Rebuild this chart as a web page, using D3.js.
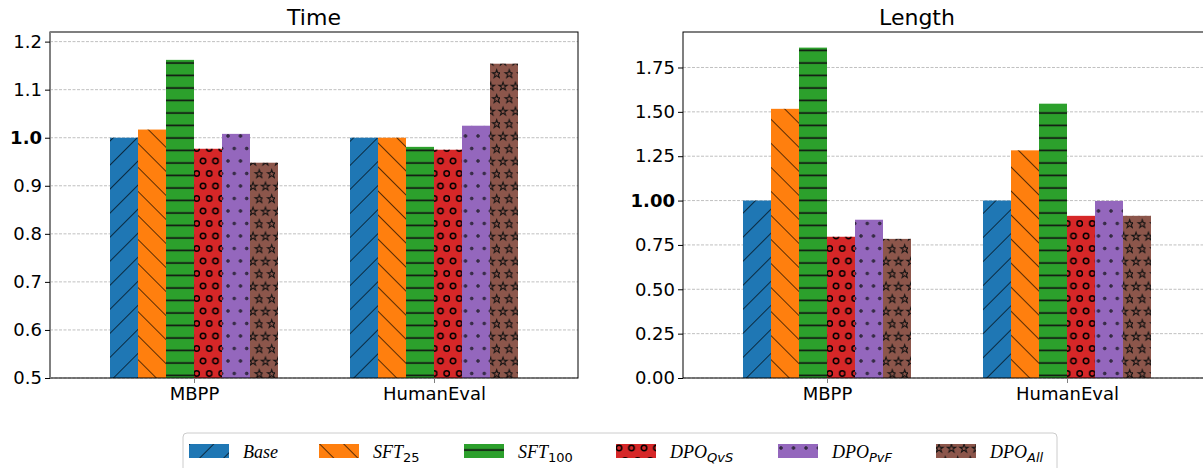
<!DOCTYPE html>
<html>
<head>
<meta charset="utf-8">
<script src="https://cdn.jsdelivr.net/npm/d3@7"></script>
<style>
  body { margin: 0; background: #fff; }
  svg text { font-family: "DejaVu Sans", sans-serif; }
</style>
</head>
<body>
<svg id="drawing_region"></svg>
<script>
const groups = ["MBPP", "HumanEval"];
const methods = ["Base", "SFT25", "SFT100", "DPO_QvS", "DPO_PvF", "DPO_All"];
const colors = ["#1f77b4", "#ff7f0e", "#2ca02c", "#d62728", "#9467bd", "#8c564b"];
const hatches = ["fwd", "back", "horiz", "rings", "dots", "stars"];

// one row per group, one value per method
const time_values = [
    [1.000, 1.017, 1.162, 0.977, 1.008, 0.948],
    [1.000, 1.000, 0.981, 0.975, 1.025, 1.154]
];
const length_values = [
    [1.000, 1.517, 1.862, 0.796, 0.892, 0.784],
    [1.000, 1.283, 1.546, 0.914, 0.998, 0.914]
];
const time_ticks = [0.5, 0.6, 0.7, 0.8, 0.9, 1.0, 1.1, 1.2];
const length_ticks = [0.00, 0.25, 0.50, 0.75, 1.00, 1.25, 1.50, 1.75];

// legend labels: main part + subscript
const legend_main = ["Base", "SFT", "SFT", "DPO", "DPO", "DPO"];
const legend_sub = ["", "25", "100", "QvS", "PvF", "All"];

const svg = d3.select('#drawing_region')
    .attr('width', 1203)
    .attr('height', 468);

// hatch patterns
const defs = svg.append('defs');

function linePattern(id, angle, gap) {
    const p = defs.append('pattern')
        .attr('id', id)
        .attr('patternUnits', 'userSpaceOnUse')
        .attr('width', gap)
        .attr('height', gap)
        .attr('patternTransform', `rotate(${angle})`);
    p.append('line')
        .attr('x1', 0).attr('y1', 0)
        .attr('x2', 0).attr('y2', gap)
        .attr('stroke', '#000')
        .attr('stroke-width', 1.3);
}
linePattern('fwd', 45, 17);
linePattern('back', -45, 17);

const horiz = defs.append('pattern')
    .attr('id', 'horiz')
    .attr('patternUnits', 'userSpaceOnUse')
    .attr('width', 12.5)
    .attr('height', 12.5);
horiz.append('line')
    .attr('x1', 0).attr('y1', 6).attr('x2', 12.5).attr('y2', 6)
    .attr('stroke', '#111').attr('stroke-width', 1.6);

function shapePattern(id, draw) {
    const p = defs.append('pattern')
        .attr('id', id)
        .attr('patternUnits', 'userSpaceOnUse')
        .attr('width', 12.5)
        .attr('height', 25);
    [[0, 0], [12.5, 0], [6.25, 12.5], [0, 25], [12.5, 25]].forEach(c => draw(p, c[0] + 3, c[1] + 4));
}
shapePattern('rings', (p, x, y) => p.append('circle')
    .attr('cx', x).attr('cy', y).attr('r', 2.7)
    .attr('fill', 'none').attr('stroke', '#000').attr('stroke-width', 1.5));
shapePattern('dots', (p, x, y) => p.append('circle')
    .attr('cx', x).attr('cy', y).attr('r', 1.4)
    .attr('fill', '#3a2a55').attr('stroke', '#222').attr('stroke-width', 0.7));

const star = d3.symbol().type(d3.symbolStar).size(22);
shapePattern('stars', (p, x, y) => p.append('path')
    .attr('d', star())
    .attr('transform', `translate(${x},${y + 0.5})`)
    .attr('fill', 'none').attr('stroke', '#111').attr('stroke-width', 1));


class GroupedBars {

    constructor( config, values ) {
        this.config = config;
        this.values = values;
        this.init();
    }

    init() {
        let self = this;
        const c = self.config;

        self.chart = svg.append('g')
            .attr('transform', `translate(${c.left}, ${c.top})`);

        self.xscale = d3.scaleLinear()
            .domain([-0.6, 1.6])
            .range([0, c.width]);

        self.yscale = d3.scaleLinear()
            .domain(c.ydomain)
            .range([c.height, 0]);

        self.bar_w = 0.7 / methods.length;
    }

    render() {
        let self = this;
        const c = self.config;

        // grid
        self.chart.append('g')
            .selectAll('line')
            .data(c.ticks)
            .join('line')
            .attr('x1', 0)
            .attr('x2', c.width)
            .attr('y1', d => self.yscale(d))
            .attr('y2', d => self.yscale(d))
            .attr('stroke', '#b0b0b0')
            .attr('stroke-width', 0.8)
            .attr('stroke-dasharray', '3,1.5');

        // bars
        const rows = [];
        self.values.forEach((vals, gi) => {
            vals.forEach((v, mi) => rows.push({ g: gi, m: mi, v: v }));
        });

        const bars = self.chart.append('g');
        const pos = d => d.g + (d.m - methods.length / 2) * self.bar_w;
        const y0 = self.yscale(c.ydomain[0]);

        bars.selectAll('rect.fill')
            .data(rows)
            .join('rect')
            .attr('class', 'fill')
            .attr('x', d => self.xscale(pos(d)))
            .attr('width', d => self.xscale(pos(d) + self.bar_w) - self.xscale(pos(d)))
            .attr('y', d => self.yscale(d.v))
            .attr('height', d => y0 - self.yscale(d.v))
            .attr('fill', d => colors[d.m]);

        bars.selectAll('rect.hatch')
            .data(rows)
            .join('rect')
            .attr('class', 'hatch')
            .attr('x', d => self.xscale(pos(d)))
            .attr('width', d => self.xscale(pos(d) + self.bar_w) - self.xscale(pos(d)))
            .attr('y', d => self.yscale(d.v))
            .attr('height', d => y0 - self.yscale(d.v))
            .attr('fill', d => `url(#${hatches[d.m]})`);

        // spines
        self.chart.append('rect')
            .attr('width', c.width)
            .attr('height', c.height)
            .attr('fill', 'none')
            .attr('stroke', '#000')
            .attr('stroke-width', 1);

        if (c.grey_left) {
            self.chart.append('line')
                .attr('x1', 0).attr('x2', 0)
                .attr('y1', 0).attr('y2', c.height)
                .attr('stroke', '#808080')
                .attr('stroke-width', 2);
        }

        // y axis
        const yaxis = d3.axisLeft(self.yscale)
            .tickValues(c.ticks)
            .tickSize(5)
            .tickPadding(3)
            .tickFormat(d3.format(c.fmt));

        const yg = self.chart.append('g').call(yaxis);
        yg.select('.domain').remove();
        yg.selectAll('text')
            .attr('font-size', '18px')
            .attr('fill', '#000')
            .attr('font-weight', d => Math.abs(d - 1) < 1e-9 ? 'bold' : 'normal');

        // x axis
        const xaxis = d3.axisBottom(self.xscale)
            .tickValues([0, 1])
            .tickSize(5)
            .tickPadding(4)
            .tickFormat(i => groups[i]);

        const xg = self.chart.append('g')
            .attr('transform', `translate(0, ${c.height})`)
            .call(xaxis);
        xg.select('.domain').remove();
        xg.selectAll('line').attr('stroke', '#808080');
        xg.selectAll('text')
            .attr('font-size', '18px')
            .attr('fill', '#000');

        // title
        self.chart.append('text')
            .attr('x', c.title_x)
            .attr('y', -7)
            .attr('text-anchor', 'middle')
            .attr('font-size', '22px')
            .text(c.title);
    }
}

const time_chart = new GroupedBars({
    left: 50, top: 32, width: 528, height: 346,
    ydomain: [0.5, 1.22], ticks: time_ticks, fmt: '.1f',
    title: 'Time', title_x: 264, grey_left: true
}, time_values);
time_chart.render();

const length_chart = new GroupedBars({
    left: 683, top: 32, width: 528, height: 346,
    ydomain: [0, 1.95], ticks: length_ticks, fmt: '.2f',
    title: 'Length', title_x: 234, grey_left: false
}, length_values);
length_chart.render();

// legend
const legend = svg.append('g');
const legend_x = [189, 319, 464, 616, 778, 936];

legend.append('rect')
    .attr('x', 183)
    .attr('y', 433)
    .attr('width', 874)
    .attr('height', 44)
    .attr('rx', 4)
    .attr('fill', '#fff')
    .attr('stroke', '#cccccc')
    .attr('stroke-width', 1);

const items = legend.selectAll('g.item')
    .data(methods)
    .join('g')
    .attr('class', 'item')
    .attr('transform', (d, i) => `translate(${legend_x[i]}, 444)`);

items.append('rect')
    .attr('width', 40).attr('height', 14)
    .attr('fill', (d, i) => colors[i]);
items.append('rect')
    .attr('width', 40).attr('height', 14)
    .attr('fill', (d, i) => `url(#${hatches[i]})`);

const labels = items.append('text')
    .attr('x', 54)
    .attr('y', 14)
    .attr('font-size', '18px');

labels.append('tspan')
    .style('font-family', '"Liberation Serif", serif')
    .style('font-style', 'italic')
    .text((d, i) => legend_main[i]);

labels.append('tspan')
    .attr('dy', 4)
    .attr('font-size', '13px')
    .style('font-style', (d, i) => /\d/.test(legend_sub[i]) ? 'normal' : 'italic')
    .text((d, i) => legend_sub[i]);
</script>
</body>
</html>
